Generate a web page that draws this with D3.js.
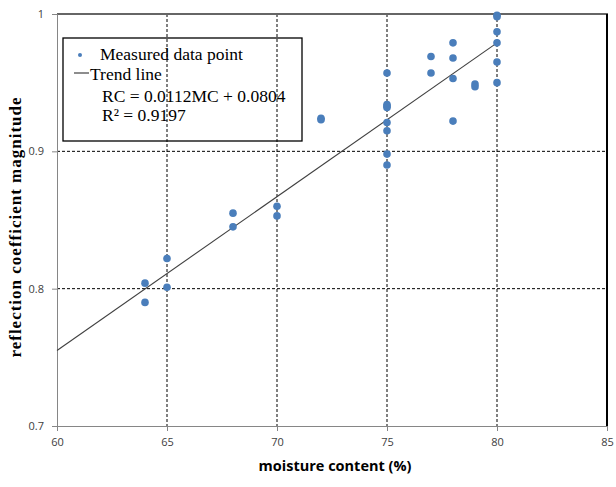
<!DOCTYPE html>
<html>
<head>
<meta charset="utf-8">
<script src="https://cdn.jsdelivr.net/npm/d3@7"></script>
<style>
  html, body { margin: 0; padding: 0; background: #fff; }
  svg { display: block; }
</style>
</head>
<body>
<svg id="chart" width="616" height="487"></svg>
<script>
// ---- data ----
const moisture = [64, 64, 65, 65, 68, 68, 70, 70, 72, 72,
                  75, 75, 75, 75, 75, 75, 75, 75,
                  77, 77, 78, 78, 78, 78, 79, 79,
                  80, 80, 80, 80, 80, 80];
const reflection = [0.804, 0.790, 0.822, 0.801, 0.855, 0.845, 0.860, 0.853, 0.924, 0.923,
                    0.957, 0.934, 0.932, 0.921, 0.915, 0.898, 0.890, 0.933,
                    0.969, 0.957, 0.979, 0.968, 0.953, 0.922, 0.949, 0.947,
                    0.999, 0.998, 0.987, 0.979, 0.965, 0.950];
const trendX = [60, 80];
const trendY = [0.755, 0.979];
const xTicks = [60, 65, 70, 75, 80, 85];
const yTicks = [0.7, 0.8, 0.9, 1];
const xGrid = [65, 70, 75, 80];
const yGrid = [0.8, 0.9];
const legendLabels = ["Measured data point", "Trend line", "RC = 0.0112MC + 0.0804", "R² = 0.9197"];

// ---- layout ----
const svg = d3.select("#chart");
const L = 57, R = 607, T = 14, B = 426;
const x = d3.scaleLinear().domain([60, 85]).range([L, R]);
const y = d3.scaleLinear().domain([0.7, 1]).range([B, T]);

// gridlines
svg.append("g").selectAll("line").data(xGrid).join("line")
  .attr("x1", d => x(d)).attr("x2", d => x(d))
  .attr("y1", T).attr("y2", B)
  .attr("stroke", "#000").attr("stroke-width", 1).attr("stroke-dasharray", "3,2");
svg.append("g").selectAll("line").data(yGrid).join("line")
  .attr("x1", L).attr("x2", R)
  .attr("y1", d => y(d)).attr("y2", d => y(d))
  .attr("stroke", "#000").attr("stroke-width", 1).attr("stroke-dasharray", "3,2");

// frame: top and right
svg.append("line").attr("x1", L).attr("x2", R + 1).attr("y1", T).attr("y2", T)
  .attr("stroke", "#666").attr("stroke-width", 2);
svg.append("line").attr("x1", R).attr("x2", R).attr("y1", T).attr("y2", B)
  .attr("stroke", "#000").attr("stroke-width", 2);

// axes
const xAxis = d3.axisBottom(x).tickValues(xTicks).tickSize(5).tickPadding(7).tickFormat(d3.format("d"));
const gx = svg.append("g").attr("transform", `translate(0,${B})`).call(xAxis);
gx.select(".domain").attr("stroke", "#868686");
gx.selectAll(".tick line").attr("stroke", "#868686");
gx.selectAll("text").attr("fill", "#404040").attr("font-family", "Open Sans, Liberation Sans, sans-serif").attr("font-size", 11);

const yAxis = d3.axisLeft(y).tickValues(yTicks).tickSize(5).tickPadding(8).tickFormat(d => d === 1 ? "1" : d3.format(".1f")(d));
const gy = svg.append("g").attr("transform", `translate(${L},0)`).call(yAxis);
gy.select(".domain").attr("stroke", "#868686");
gy.selectAll(".tick line").attr("stroke", "#868686");
gy.selectAll("text").attr("fill", "#404040").attr("font-family", "Open Sans, Liberation Sans, sans-serif").attr("font-size", 11);

// trend line
svg.append("path")
  .datum(trendX.map((d, i) => [d, trendY[i]]))
  .attr("d", d3.line().x(d => x(d[0])).y(d => y(d[1])))
  .attr("fill", "none").attr("stroke", "#404040").attr("stroke-width", 1.1);

// points
svg.append("g").selectAll("circle").data(moisture.map((d, i) => [d, reflection[i]])).join("circle")
  .attr("cx", d => x(d[0])).attr("cy", d => y(d[1])).attr("r", 3.8)
  .attr("fill", "#4a7ebb");

// legend
const lg = svg.append("g");
lg.append("rect").attr("x", 63).attr("y", 38).attr("width", 239).attr("height", 103)
  .attr("fill", "none").attr("stroke", "#000").attr("stroke-width", 1.3);
lg.append("circle").attr("cx", 80).attr("cy", 55).attr("r", 2).attr("fill", "#4a7ebb");
lg.append("line").attr("x1", 74).attr("x2", 89).attr("y1", 73).attr("y2", 73)
  .attr("stroke", "#404040").attr("stroke-width", 1.2);
const lf = "Liberation Serif, Times New Roman, serif";
const lfs = 17.5;
lg.append("text").attr("x", 100).attr("y", 60).text(legendLabels[0])
  .attr("font-family", lf).attr("font-size", lfs).attr("fill", "#000");
lg.append("text").attr("x", 90).attr("y", 80).text(legendLabels[1])
  .attr("font-family", lf).attr("font-size", lfs).attr("fill", "#000");
lg.append("text").attr("x", 102).attr("y", 102).text(legendLabels[2])
  .attr("font-family", lf).attr("font-size", lfs).attr("fill", "#000");
lg.append("text").attr("x", 102).attr("y", 121).text(legendLabels[3])
  .attr("font-family", lf).attr("font-size", lfs).attr("fill", "#000");

// axis titles
svg.append("text").attr("x", 335).attr("y", 471).attr("text-anchor", "middle")
  .attr("font-family", "Open Sans, Liberation Sans, sans-serif").attr("font-weight", "bold")
  .attr("font-size", 14.5).attr("fill", "#000").text("moisture content (%)");
svg.append("text").attr("transform", "translate(21,227) rotate(-90)").attr("text-anchor", "middle")
  .attr("font-family", lf).attr("font-weight", "bold").attr("letter-spacing", 1)
  .attr("font-size", 17).attr("fill", "#000").text("reflection coefficient magnitude");
</script>
</body>
</html>
